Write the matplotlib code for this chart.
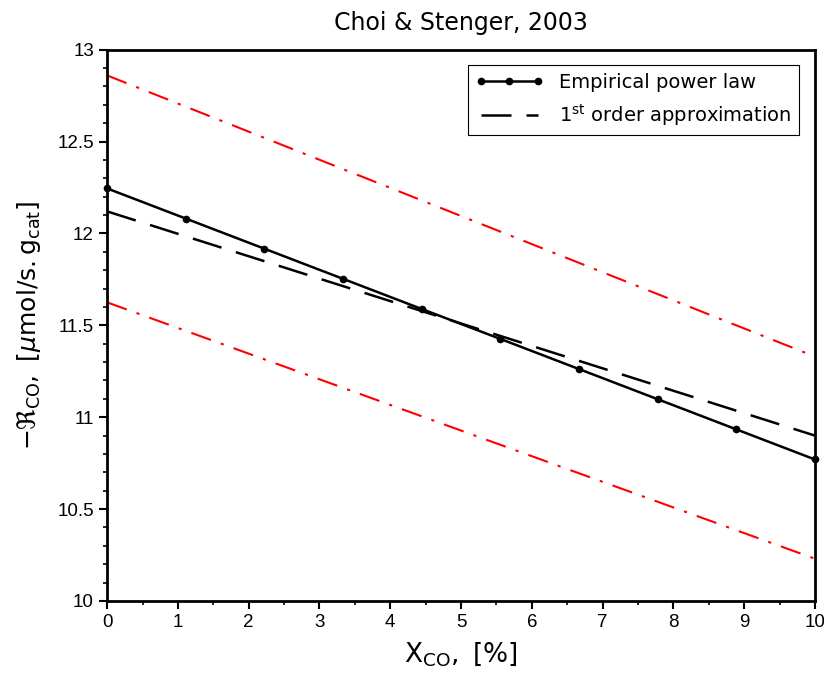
import matplotlib.pyplot as plt
import numpy as np
from matplotlib.ticker import MultipleLocator

plt.rcParams['mathtext.fontset'] = 'dejavusans'

# conversion X_CO [%]
x_emp = [0, 1.111, 2.222, 3.333, 4.444, 5.556, 6.667, 7.778, 8.889, 10]
r_emp = [12.245, 12.081, 11.917, 11.753, 11.589, 11.426, 11.262, 11.098, 10.934, 10.77]

x_lin = [0, 10]
r_first = [12.12, 10.90]
r_upper = [12.86, 11.33]
r_lower = [11.625, 10.23]

fig = plt.figure(figsize=(8.24, 6.9), dpi=100)
ax = fig.add_axes([0.130, 0.129, 0.859, 0.799])

# bounds
ax.plot(x_lin, r_upper, color='red', lw=1.5, dashes=(10, 5, 1.5, 5))
ax.plot(x_lin, r_lower, color='red', lw=1.5, dashes=(10, 5, 1.5, 5))

ax.plot(x_emp, r_emp, color='black', lw=1.8, marker='o', ms=4.5,
        label='Empirical power law', clip_on=False, zorder=3)
ax.plot(x_lin, r_first, color='black', lw=1.8, dashes=(12, 6),
        label=r'1$^{\mathrm{st}}$ order approximation')

ax.set_xlim(0, 10)
ax.set_ylim(10, 13)
ax.xaxis.set_major_locator(MultipleLocator(1))
ax.xaxis.set_minor_locator(MultipleLocator(0.5))
ax.yaxis.set_major_locator(MultipleLocator(0.5))
ax.yaxis.set_minor_locator(MultipleLocator(0.1))
ax.yaxis.set_major_formatter(plt.FuncFormatter(lambda v, p: f'{v:g}'))
ax.tick_params(which='major', direction='out', length=6, width=1.5,
               labelsize=13.5, top=False, right=False)
ax.tick_params(which='minor', direction='out', length=3, width=1.2)
for lbl in ax.get_xticklabels() + ax.get_yticklabels():
    lbl.set_family('Liberation Sans')
for s in ax.spines.values():
    s.set_linewidth(2)

ax.set_title('Choi & Stenger, 2003', fontsize=17, pad=14)
ax.set_xlabel(r'$\mathrm{X_{CO},\ [\%]}$', fontsize=19, labelpad=6)
ax.set_ylabel(r'$-\Re_{\mathrm{CO}},\ [\mu\mathrm{mol/s.g_{cat}}]$', fontsize=18, labelpad=10)

leg = ax.legend(loc='upper right', fontsize=14, numpoints=3, handlelength=3.5,
                fancybox=False, edgecolor='black', framealpha=1,
                borderaxespad=0.8, labelspacing=0.5)
leg.get_frame().set_linewidth(0.8)

fig.savefig('out.png', dpi=100)
